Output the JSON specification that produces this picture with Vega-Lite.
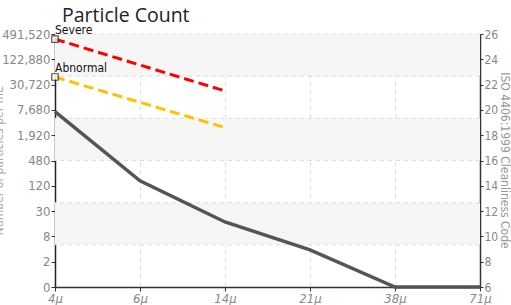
{
  "$schema": "https://vega.github.io/schema/vega-lite/v6.json",
  "autosize": {"type": "none"},
  "width": 425,
  "height": 253,
  "padding": {"left": 55, "top": 34, "right": 31, "bottom": 18},
  "background": "white",
  "config": {"view": {"stroke": null}, "font": "Liberation Sans Narrow, DejaVu Sans Condensed, Roboto"},
  "title": {"text": "Particle Count", "anchor": "start", "frame": "group", "dx": 7, "offset": -2, "fontSize": 19.5, "font": "Open Sans", "fontWeight": "normal", "color": "#222"},
  "datasets": {
    "bands": [
      {"lo": 22.667, "hi": 26},
      {"lo": 16, "hi": 19.333},
      {"lo": 9.333, "hi": 12.667}
    ],
    "grid": [{"g": 26}, {"g": 22.667}, {"g": 19.333}, {"g": 16}, {"g": 12.667}, {"g": 9.333}],
    "count": [
      {"size": "4μ", "code": 19.86},
      {"size": "6μ", "code": 14.4},
      {"size": "14μ", "code": 11.14},
      {"size": "21μ", "code": 8.93},
      {"size": "38μ", "code": 6},
      {"size": "71μ", "code": 6}
    ],
    "limits": [
      {"size": "4μ", "code": 25.6, "level": "Severe"},
      {"size": "6μ", "code": 23.55, "level": "Severe"},
      {"size": "14μ", "code": 21.5, "level": "Severe"},
      {"size": "4μ", "code": 22.6, "level": "Abnormal"},
      {"size": "6μ", "code": 20.6, "level": "Abnormal"},
      {"size": "14μ", "code": 18.6, "level": "Abnormal"}
    ],
    "markers": [
      {"size": "4μ", "code": 25.6, "label": "Severe"},
      {"size": "4μ", "code": 22.6, "label": "Abnormal"}
    ]
  },
  "encoding": {
    "x": {"field": "size", "type": "ordinal", "sort": ["4μ", "6μ", "14μ", "21μ", "38μ", "71μ"],
      "scale": {"type": "point", "padding": 0},
      "axis": {"title": null, "labelAngle": 0, "labelColor": "#888", "labelFontSize": 13, "labelFontStyle": "italic", "domainColor": "#333", "domainWidth": 1.5, "tickColor": "#333", "tickSize": 4, "labelPadding": 1, "grid": true, "gridDash": [4, 4], "gridColor": "#ddd"}}
  },
  "layer": [
    {
      "data": {"name": "bands"},
      "mark": {"type": "rect", "color": "#f6f6f6"},
      "encoding": {"x": null, "y": {"field": "lo", "type": "quantitative", "scale": {"domain": [6, 26], "nice": false, "zero": false}, "axis": null}, "y2": {"field": "hi"}}
    },
    {
      "data": {"name": "grid"},
      "mark": {"type": "rule", "color": "#ddd", "strokeDash": [4, 4], "strokeWidth": 1},
      "encoding": {"x": null, "y": {"field": "g", "type": "quantitative", "axis": null}}
    },
    {
      "data": {"name": "count"},
      "mark": {"type": "line", "color": "#555", "strokeWidth": 3.5},
      "encoding": {
        "y": {"field": "code", "type": "quantitative", "scale": {"domain": [6, 26], "nice": false, "zero": false},
          "axis": {"orient": "left", "title": "Number of particles per mL", "titleColor": "#aaa", "titleFontSize": 12, "titleFontWeight": "normal", "titleX": -50, "values": [6, 8, 10, 12, 14, 16, 18, 20, 22, 24, 26],
            "labelExpr": "['0','2','8','30','120','480','1,920','7,680','30,720','122,880','491,520'][round((datum.value-6)/2)]",
            "labelColor": "#888", "labelFontSize": 13, "domainColor": "#222", "domainWidth": 1.5, "tickColor": "#333", "tickSize": 4, "labelPadding": 1, "grid": false}}
      }
    },
    {
      "data": {"name": "limits"},
      "mark": {"type": "line", "strokeWidth": 3, "strokeDash": [10, 5]},
      "encoding": {
        "y": {"field": "code", "type": "quantitative",
          "axis": {"orient": "right", "title": "ISO 4406:1999 Cleanliness Code", "titleColor": "#999", "titleFontSize": 12, "titleFontWeight": "normal", "titleAngle": 90, "titleX": 24, "titleY": 126, "titleAlign": "center", "titleBaseline": "middle", "values": [6, 8, 10, 12, 14, 16, 18, 20, 22, 24, 26],
            "labelColor": "#888", "labelFontSize": 12, "domainColor": "#333", "domainWidth": 1.5, "tickColor": "#333", "tickSize": 3, "labelPadding": 1, "grid": false}},
        "color": {"field": "level", "type": "nominal", "scale": {"domain": ["Severe", "Abnormal"], "range": ["#ff0000", "#ffc000"]}, "legend": null}
      }
    },
    {
      "data": {"name": "markers"},
      "mark": {"type": "square", "filled": true, "fill": "white", "stroke": "#111", "strokeWidth": 1.2, "size": 42},
      "encoding": {"y": {"field": "code", "type": "quantitative", "axis": null}}
    },
    {
      "data": {"name": "markers"},
      "mark": {"type": "text", "align": "left", "baseline": "bottom", "dx": 0, "dy": -2, "fontSize": 12, "fontWeight": "normal", "color": "#111", "font": "Liberation Sans Narrow, DejaVu Sans Condensed, Roboto"},
      "encoding": {"y": {"field": "code", "type": "quantitative", "axis": null}, "text": {"field": "label"}}
    }
  ],
  "resolve": {"axis": {"y": "independent"}}
}
